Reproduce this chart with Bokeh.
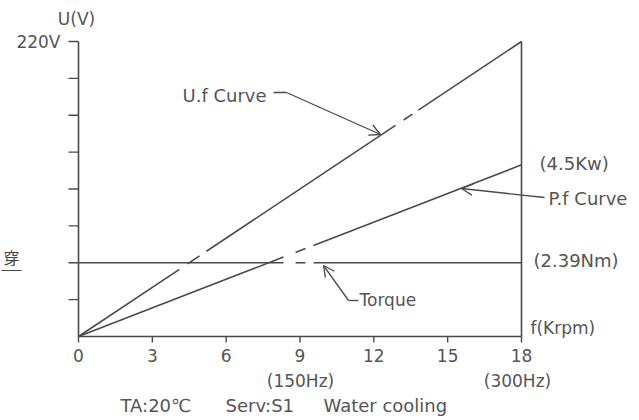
import numpy as np
from bokeh.plotting import figure
from bokeh.models import Range1d, Arrow, OpenHead
from bokeh.core.properties import value
from bokeh.embed import file_html
from bokeh.resources import INLINE

# ---------------- data ----------------
speed_krpm = [0, 18]            # f (Krpm)
uf_volts = [0, 220]             # U.f curve (V)
pf_level = [0, 128]             # P.f curve on the same vertical scale (4.5 kW at 18 krpm)
torque_level = [55, 55]         # constant torque line (2.39 Nm)
x_ticks = [0, 3, 6, 9, 12, 15, 18]
x_tick_labels = ["0", "3", "6", "9", "12", "15", "18"]
y_ticks = [27.5, 55, 82.5, 110, 137.5, 165, 192.5, 220]
y_top_label = "220V"
# broken-line crossings (x intervals in krpm where a line is interrupted)
uf_breaks = [(4.10, 4.43), (4.92, 5.20), (12.88, 13.21), (13.57, 13.81)]
pf_breaks = [(8.33, 8.82), (9.22, 9.55)]
tq_breaks = [(8.33, 8.82), (9.22, 9.55)]

INK = "#4a4a4a"
TXT = "#555555"
FONT = "DejaVu Sans"
FS = "17px"
FL = "18px"

W, H = 639, 420
# plot box in page pixels: x 0 -> 78, x 18 -> 521 ; y 0 -> 336, y 220 -> 41
PX0, PX1, PY0, PY1 = 78.0, 521.0, 336.0, 41.0


def X(ix):
    return (ix - PX0) * 18.0 / (PX1 - PX0)


def Y(iy):
    return (PY0 - iy) * 220.0 / (PY0 - PY1)


p = figure(width=W, height=H, output_backend="svg", toolbar_location=None,
           x_range=Range1d(X(0), X(W)), y_range=Range1d(Y(H), Y(0)),
           min_border=0, x_axis_type=None, y_axis_type=None)
p.outline_line_color = None
p.grid.visible = False
p.background_fill_color = "white"
p.border_fill_color = "white"

# ---------------- axes (drawn on the data scale) ----------------
p.segment(x0=[0, 0, 18], y0=[0, 0, 0], x1=[18, 0, 18], y1=[0, 220, 220],
          line_color=INK, line_width=1.6)
p.segment(x0=[0] * len(y_ticks), y0=y_ticks, x1=[X(PX0 - 10)] * len(y_ticks), y1=y_ticks,
          line_color=INK, line_width=1.4)
p.segment(x0=x_ticks, y0=[0] * len(x_ticks), x1=x_ticks, y1=[Y(PY0 + 6)] * len(x_ticks),
          line_color=INK, line_width=1.4)
p.text(x=x_ticks, y=[Y(355)] * len(x_ticks), text=x_tick_labels,
       text_align="center", text_baseline="middle", text_color=TXT,
       text_font=value(FONT), text_font_size=FS)
p.text(x=[X(60)], y=[y_ticks[-1]], text=[y_top_label], text_align="right",
       text_baseline="middle", text_color=TXT, text_font=value(FONT), text_font_size=FS)


# ---------------- curves ----------------
def broken(xs, ys, breaks):
    cuts = [xs[0]]
    for a, b in breaks:
        cuts += [a, b]
    cuts.append(xs[-1])
    segx, segy = [], []
    for i in range(0, len(cuts), 2):
        sx = [cuts[i], cuts[i + 1]]
        segx.append(sx)
        segy.append(list(np.interp(sx, xs, ys)))
    return segx, segy


for ys, br in [(uf_volts, uf_breaks), (pf_level, pf_breaks), (torque_level, tq_breaks)]:
    sx, sy = broken(speed_krpm, ys, br)
    p.multi_line(sx, sy, line_color=INK, line_width=1.6)


# ---------------- texts ----------------
def lab(text, ix, iy, align="left", font=FONT, size=FS, color=TXT):
    p.text(x=[X(ix)], y=[Y(iy)], text=[text], text_align=align, text_baseline="middle",
           text_color=color, text_font=value(font), text_font_size=size)


lab("U(V)", 76, 18, align="center")
lab("f(Krpm)", 530, 327)
lab("(150Hz)", 300, 380, align="center")
lab("(300Hz)", 517, 380, align="center")
lab("(4.5Kw)", 539, 163, size=FL)
lab("(2.39Nm)", 533, 260, size=FL)
lab("P.f Curve", 548, 198, size=FL)
lab("U.f Curve", 182, 95, size=FL)
lab("Torque", 359, 299)
lab("TA:20℃", 120, 405, size=FL)
lab("Serv:S1", 225, 405, size=FL)
lab("Water cooling", 323, 405, size=FL)
lab("穿", 3, 256, font="Noto Sans CJK JP", size="16px", color="#444444")

# underline below 穿
p.segment(x0=[X(1)], y0=[Y(270)], x1=[X(21)], y1=[Y(270)], line_color=INK, line_width=1.2)


# ---------------- leader lines / arrows ----------------
def line(x0, y0, x1, y1, head=False):
    a = Arrow(x_start=X(x0), y_start=Y(y0), x_end=X(x1), y_end=Y(y1),
              line_color=INK, line_width=1.3,
              end=OpenHead(size=11, line_color=INK, line_width=1.3) if head else None)
    p.add_layout(a)


line(273, 92, 286, 92)                     # U.f leader
line(286, 92, 380, 134, head=True)
line(544, 197, 461, 188, head=True)        # P.f leader
line(358, 300, 348, 300)                   # Torque leader
line(348, 300, 323, 265, head=True)

open("out.html", "w").write(file_html(p, INLINE))
